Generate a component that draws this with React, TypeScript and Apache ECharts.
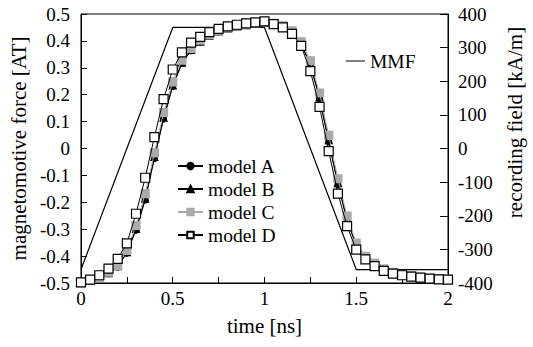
import React, { useEffect, useRef } from "react";
import * as echarts from "echarts";

const times = [0, 0.05, 0.1, 0.15, 0.2, 0.25, 0.3, 0.35, 0.4, 0.45, 0.5, 0.55, 0.6, 0.65, 0.7, 0.75, 0.8, 0.85, 0.9, 0.95, 1.0,
  1.05, 1.1, 1.15, 1.2, 1.25, 1.3, 1.35, 1.4, 1.45, 1.5, 1.55, 1.6, 1.65, 1.7, 1.75, 1.8, 1.85, 1.9, 1.95, 2.0];

const modelA = [-400, -395, -386, -372, -352, -311, -243, -153, -30, 88, 185, 253, 291, 317, 334, 347, 355, 361, 366, 370, 373,
  369, 361, 345, 310, 249, 148, 20, -108, -214, -290, -327, -346, -361, -371, -377, -381, -385, -387, -389, -390];
const modelB = [-400, -394, -385, -371, -350, -308, -239, -149, -25, 92, 188, 255, 293, 318, 335, 348, 356, 362, 367, 371, 374,
  370, 362, 346, 312, 252, 152, 25, -103, -210, -287, -325, -345, -360, -370, -376, -380, -384, -386, -388, -390];
const modelC = [-400, -393, -383, -368, -348, -303, -229, -134, -13, 107, 198, 263, 298, 322, 338, 350, 358, 364, 369, 373, 376,
  372, 365, 350, 317, 261, 165, 39, -90, -201, -281, -321, -341, -358, -368, -375, -379, -383, -386, -388, -389];
const modelD = [-398, -390, -377, -357, -328, -282, -194, -87, 34, 147, 235, 286, 315, 332, 346, 356, 363, 368, 372, 375, 378,
  370, 360, 341, 305, 230, 124, -8, -134, -231, -301, -330, -350, -364, -372, -377, -381, -384, -387, -389, -390];

const mmfTimes = [0, 0.5, 1.0, 1.5, 2.0];
const mmfValues = [-0.45, 0.45, 0.45, -0.45, -0.45];

const FONT = "Liberation Serif";

export default function App() {
  const ref = useRef<HTMLDivElement>(null);
  useEffect(() => {
    if (!ref.current) return;
    const chart = echarts.init(ref.current, undefined, { renderer: "svg" });
    const pairs = (vals: number[]) => times.map((t, i) => [t, vals[i]]);
    const text = { color: "#000", fontFamily: FONT, fontSize: 19 };
    const nameText = { color: "#000", fontFamily: FONT, fontSize: 21 };
    const legendText = { color: "#000", fontFamily: FONT, fontSize: 19.5 };
    const modelSeries = (name: string, vals: number[], symbol: string, size: number, color: string, fill: string, z: number) => ({
      name,
      type: "line",
      yAxisIndex: 1,
      data: pairs(vals),
      symbol,
      symbolSize: size,
      showAllSymbol: true,
      lineStyle: { color, width: 1 },
      itemStyle: { color: fill, borderColor: color, borderWidth: 1.2 },
      z,
    });
    chart.setOption({
      animation: false,
      backgroundColor: "#fff",
      textStyle: { fontFamily: FONT },
      grid: { left: 79, right: 77, top: 14, bottom: 64, show: true, borderColor: "#000", borderWidth: 1 },
      legend: [
        {
          data: ["model A", "model B", "model C", "model D"],
          orient: "vertical",
          left: 172,
          top: 151,
          itemGap: 3,
          itemWidth: 25,
          itemHeight: 8,
          textStyle: legendText,
        },
        {
          data: [{ name: "MMF", icon: "rect" }],
          left: 341,
          top: 46,
          itemWidth: 19,
          itemHeight: 1,
          textStyle: legendText,
        },
      ],
      xAxis: {
        type: "value",
        min: 0,
        max: 2,
        interval: 0.25,
        name: "time [ns]",
        nameLocation: "middle",
        nameGap: 32,
        nameTextStyle: nameText,
        axisLine: { onZero: false, lineStyle: { color: "#000" } },
        axisTick: { inside: true, length: 6, lineStyle: { color: "#000" } },
        axisLabel: {
          ...text,
          margin: 6,
          formatter: (v: number) => (Math.abs(v * 2 - Math.round(v * 2)) < 1e-6 ? String(Number(v.toFixed(2))) : ""),
        },
        splitLine: { show: false },
      },
      yAxis: [
        {
          type: "value",
          min: -0.5,
          max: 0.5,
          interval: 0.1,
          name: "magnetomotive force [AT]",
          nameLocation: "middle",
          nameGap: 46,
          nameTextStyle: nameText,
          axisLine: { onZero: false, lineStyle: { color: "#000" } },
          axisTick: { inside: true, length: 6, lineStyle: { color: "#000" } },
          axisLabel: {
            ...text,
            margin: 11,
            formatter: (v: number) => {
              const r = Number(v.toFixed(1));
              return r === 0 ? "0" : String(r);
            },
          },
          splitLine: { show: false },
        },
        {
          type: "value",
          min: -400,
          max: 400,
          interval: 100,
          position: "right",
          name: "recording field [kA/m]",
          nameLocation: "middle",
          nameRotate: 90,
          nameGap: 56,
          nameTextStyle: { ...nameText, padding: [0, 0, 0, 52] },
          axisLine: { onZero: false, lineStyle: { color: "#000" } },
          axisTick: { inside: true, length: 8, lineStyle: { color: "#000" } },
          axisLabel: { ...text, margin: 10 },
          splitLine: { show: false },
        },
      ],
      series: [
        {
          name: "MMF",
          type: "line",
          yAxisIndex: 0,
          data: mmfTimes.map((t, i) => [t, mmfValues[i]]),
          symbol: "none",
          lineStyle: { color: "#000", width: 1.2 },
          itemStyle: { color: "#000" },
          z: 1,
        },
        modelSeries("model A", modelA, "circle", 6, "#000", "#000", 2),
        modelSeries("model B", modelB, "triangle", 7, "#000", "#000", 3),
        modelSeries("model C", modelC, "rect", 8, "#aaa", "#aaa", 4),
        modelSeries("model D", modelD, "rect", 9, "#000", "#fff", 5),
      ],
    });
    return () => chart.dispose();
  }, []);
  return <div ref={ref} style={{ position: "fixed", left: 0, top: 0, width: 533, height: 347 }} />;
}
